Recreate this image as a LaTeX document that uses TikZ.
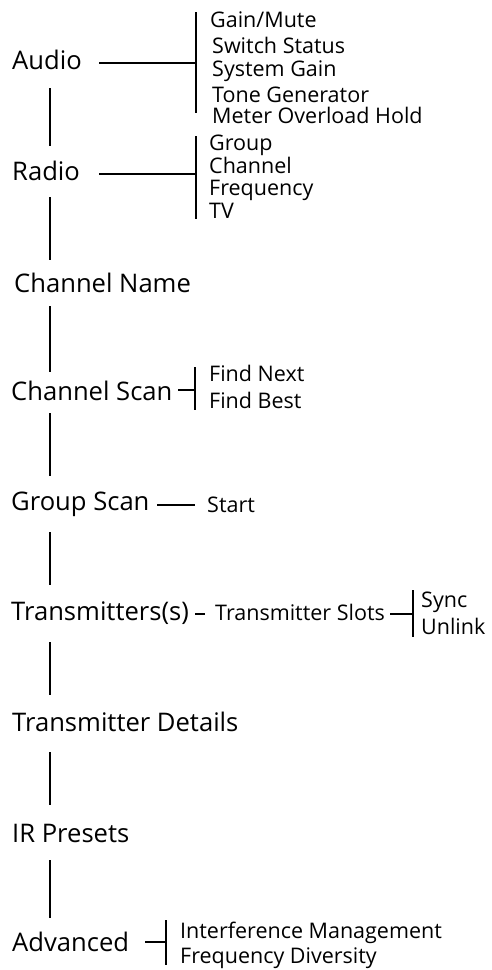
\documentclass[tikz,border=0pt]{standalone}
\usepackage{fontspec}
\setmainfont{Open Sans}
\begin{document}
\begin{tikzpicture}[x=1pt,y=-1pt,
  mainlbl/.style={anchor=base west,inner sep=0pt,font=\fontsize{25.6}{26}\selectfont,text height=18pt,text depth=5pt},
  sublbl/.style={anchor=base west,inner sep=0pt,font=\fontsize{21.5}{22}\selectfont},
  conn/.style={line width=2pt,black},
  thin/.style={line width=2pt,black}]
\useasboundingbox (0,0) rectangle (492,970);
\coordinate (spine) at (50,0);
% main labels
\node[mainlbl] (audio) at (12,69) {Audio};
\node[mainlbl] (radio) at (12,180) {Radio};
\node[mainlbl] (chname) at (14,292) {Channel Name};
\node[mainlbl] (chscan) at (11,400) {Channel Scan};
\node[mainlbl] (grpscan) at (11,510) {Group Scan};
\node[mainlbl] (trans) at (11,620) {Transmitters(s)};
\node[mainlbl] (txdet) at (12,731) {Transmitter Details};
\node[mainlbl] (irpre) at (12,842) {IR Presets};
\node[mainlbl] (adv) at (12,951) {Advanced};
% sub labels
\node[sublbl] (gain) at (210,27) {Gain/Mute};
\node[sublbl] (switch) at (212,53) {Switch Status};
\node[sublbl] (sysgain) at (212,76) {System Gain};
\node[sublbl] (tone) at (212,102) {Tone Generator};
\node[sublbl] (meter) at (212,123) {Meter Overload Hold};
\node[sublbl] (group) at (209,150) {Group};
\node[sublbl] (channel) at (209,173) {Channel};
\node[sublbl] (freq) at (209,195) {Frequency};
\node[sublbl] (tv) at (209,218) {TV};
\node[sublbl] (findnext) at (209,381) {Find Next};
\node[sublbl] (findbest) at (209,408) {Find Best};
\node[sublbl] (start) at (207,512) {Start};
\node[sublbl] (tslots) at (215,620) {Transmitter Slots};
\node[sublbl] (sync) at (421,607) {Sync};
\node[sublbl] (unlink) at (421,634) {Unlink};
\node[sublbl] (interf) at (180,938) {Interference Management};
\node[sublbl] (fdiv) at (180,963) {Frequency Diversity};
% bracket coordinates
\coordinate (aT) at (196,12);  \coordinate (aB) at (196,113);
\coordinate (rT) at (196,136); \coordinate (rB) at (196,219);
\coordinate (cT) at (195,367); \coordinate (cB) at (195,410);
\coordinate (tT) at (413,590); \coordinate (tB) at (413,637);
\coordinate (vT) at (166,920); \coordinate (vB) at (166,965);
\draw[conn] (aT) -- (aB);
\draw[conn] (rT) -- (rB);
\draw[conn] (cT) -- (cB);
\draw[conn] (tT) -- (tB);
\draw[conn] (vT) -- (vB);
% spine
\draw[conn,shorten <=14pt,shorten >=16pt] (audio.south -| spine) -- (radio.north -| spine);
\draw[conn,shorten <=12pt,shorten >=14pt] (radio.south -| spine) -- (chname.north -| spine);
\draw[conn,shorten <=9pt,shorten >=10pt] (chname.south -| spine) -- (chscan.north -| spine);
\draw[conn,shorten <=8pt,shorten >=16pt] (chscan.south -| spine) -- (grpscan.north -| spine);
\draw[conn,shorten <=17pt,shorten >=17pt] (grpscan.south -| spine) -- (trans.north -| spine);
\draw[conn,shorten <=17pt,shorten >=18pt] (trans.south -| spine) -- (txdet.north -| spine);
\draw[conn,shorten <=16pt,shorten >=19pt] (txdet.south -| spine) -- (irpre.north -| spine);
\draw[conn,shorten <=13pt,shorten >=15pt] (irpre.south -| spine) -- (adv.north -| spine);
% horizontal connectors
\draw[conn] (audio.east -| 99,0) -- (audio.east -| aT);
\draw[conn] (radio.east -| 99,0) -- (radio.east -| rT);
\draw[conn] ([yshift=3.5pt]chscan.east -| 178,0) -- ([yshift=3.5pt]chscan.east -| cT);
\draw[conn] ([yshift=-1.5pt]grpscan.east -| 157,0) -- ([yshift=-1.5pt]grpscan.east -| 195,0);
\draw[thin] (trans.east -| 195,0) -- (trans.east -| 205,0);
\draw[conn] (trans.east -| 390,0) -- (trans.east -| tT);
\draw[conn] ([yshift=2.5pt]adv.east -| 145,0) -- ([yshift=2.5pt]adv.east -| vT);
\end{tikzpicture}
\end{document}
